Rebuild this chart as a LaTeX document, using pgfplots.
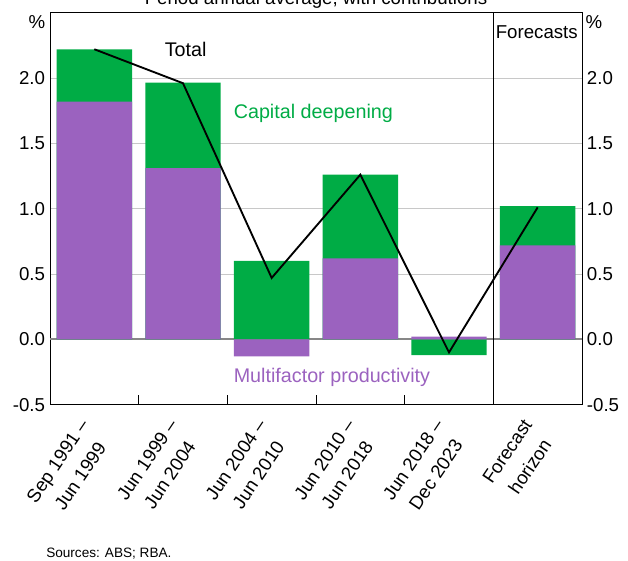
\documentclass[border=0pt]{standalone}
\usepackage{pgfplots}
\pgfplotsset{compat=1.18}
\usepackage{fontspec}
\setmainfont{Liberation Sans}
\definecolor{mfp}{RGB}{155,98,191}
\definecolor{capd}{RGB}{0,172,69}
\definecolor{gridc}{RGB}{200,200,200}
\definecolor{zeroc}{RGB}{135,135,135}
\newcommand{\lf}{\fontsize{14}{16.5}\selectfont}
\newcommand{\af}{\fontsize{14.8}{17}\selectfont}
\begin{document}
\begin{tikzpicture}
\begin{axis}[
  name=main,
  width=399pt, height=294pt, scale only axis,
  xmin=-0.5, xmax=5.5, ymin=-0.5, ymax=2.5,
  axis line style={black, line width=0.75pt},
  ytick={-0.5,0,0.5,1,1.5,2},
  yticklabels={-0.5,0.0,0.5,1.0,1.5,2.0},
  yticklabel style={font=\lf, inner sep=0pt, xshift=-3.5pt},
  ytick style={draw=none},
  ymajorgrids, grid style={color=gridc, line width=0.75pt},
  xtick={0,1,2,3,4,5},
  xticklabels={{Sep 1991 –\\Jun 1999},{Jun 1999 –\\Jun 2004},{Jun 2004 –\\Jun 2010},{Jun 2010 –\\Jun 2018},{Jun 2018 –\\Dec 2023},{Forecast\\horizon}},
  xticklabel style={font=\fontsize{14}{20.5}\selectfont, xshift=1pt, yshift=-18pt, rotate=56, anchor=east, align=center, inner sep=0pt},
  xtick pos=left,
  major tick length=0pt,
  extra x ticks={0.5,1.5,2.5,3.5},
  extra x tick labels={},
  extra x tick style={major tick length=7.5pt, tick style={black, line width=0.75pt}, grid=none},
  clip=false,
]
\draw[zeroc, line width=1.3pt] (axis cs:-0.5,0) -- (axis cs:5.5,0);
% green drawn to the level of the bar's total, purple drawn over it
\addplot[ybar, bar width=0.85, bar shift=0pt, fill=capd, draw=none]
  coordinates {(0,2.22) (1,1.965) (2,0.60) (3,1.26) (4,-0.12) (5,1.02)};
\addplot[ybar, bar width=0.85, bar shift=0pt, fill=mfp, draw=none]
  coordinates {(0,1.82) (1,1.31) (2,-0.13) (3,0.62) (4,0.02) (5,0.72)};
\addplot[black, line width=1.4pt, mark=none]
  coordinates {(0,2.22) (1,1.96) (2,0.47) (3,1.26) (4,-0.10) (5,1.01)};
\draw[black, line width=0.75pt] (axis cs:4.5,-0.5) -- (axis cs:4.5,2.5);
\node[font=\af] at (axis cs:1.03,2.22) {Total};
\node[font=\af, text=capd] at (axis cs:2.47,1.73) {Capital deepening};
\node[font=\af, text=mfp] at (axis cs:2.68,-0.29) {Multifactor productivity};
\node[font=\lf] at (axis cs:4.99,2.35) {Forecasts};
\node[font=\lf] at (rel axis cs:-0.0244,0.975) {\%};
\node[font=\lf] at (rel axis cs:1.0225,0.975) {\%};
\node[font=\lf, anchor=base] at ([yshift=6.5pt]rel axis cs:0.5,1) {Period annual average, with contributions};
\node[font=\fontsize{10.2}{12}\selectfont, anchor=base west, inner sep=0pt] at ([xshift=-3pt,yshift=-114.5pt]rel axis cs:0,0) {Sources: ABS; RBA.};
\coordinate (sw) at (rel axis cs:0,0);
\coordinate (ne) at (rel axis cs:1,1);
\end{axis}
\begin{axis}[
  width=399pt, height=294pt, scale only axis,
  xmin=-0.5, xmax=5.5, ymin=-0.5, ymax=2.5,
  axis x line=none, axis y line*=right,
  axis line style={black, line width=0.75pt},
  ytick={-0.5,0,0.5,1,1.5,2},
  yticklabels={-0.5,0.0,0.5,1.0,1.5,2.0},
  yticklabel style={font=\lf, inner sep=0pt, xshift=3.5pt},
  ytick style={draw=none}, major tick length=0pt,
]
\end{axis}
\pgfresetboundingbox
\path[use as bounding box] ([xshift=-37.5pt,yshift=-117pt]sw) rectangle ([xshift=34.5pt,yshift=9.5pt]ne);
\end{tikzpicture}
\end{document}
